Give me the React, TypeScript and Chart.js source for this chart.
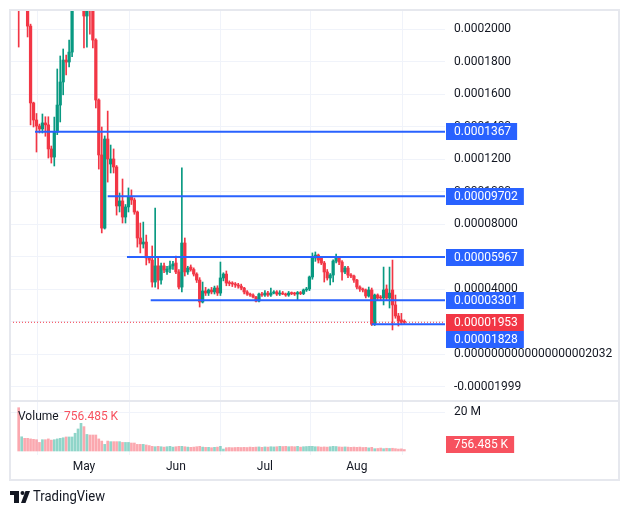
import React, { useEffect, useRef } from "react";
import { Chart, registerables } from "chart.js";

Chart.register(...registerables);

// Prices are in units of 0.00001; volumes in millions. One candle per day, index 0 = 9 Apr.
const opens = [22.6, 21.9, 22.8, 21.6, 20.18, 15.45, 14.4, 14.03, 13.85, 14.22, 14.1, 12.62, 12.12, 13.66, 15.32, 16.74, 18.09, 17.97, 18.58, 21.6, 22.8, 23.8, 24.2, 20.8, 21.4, 21.3, 19.32, 15.63, 12.25, 7.75, 13.23, 11.69, 12.0, 11.51, 9.11, 9.42, 8.43, 9.05, 9.66, 9.48, 8.74, 7.14, 6.77, 6.89, 5.91, 5.78, 4.43, 5.42, 4.55, 5.42, 5.05, 5.23, 5.42, 5.6, 5.05, 4.12, 6.83, 5.05, 5.35, 5.2, 4.92, 4.55, 3.2, 3.88, 3.75, 3.94, 3.82, 4.06, 3.75, 4.68, 4.92, 4.37, 4.34, 4.31, 4.25, 4.18, 4.06, 3.82, 3.69, 3.63, 3.51, 3.26, 3.69, 3.63, 3.75, 3.63, 3.75, 3.82, 3.69, 3.75, 3.69, 3.63, 3.75, 3.72, 3.69, 3.78, 3.72, 3.94, 4.0, 4.74, 5.91, 6.09, 5.91, 5.6, 5.05, 4.68, 4.86, 5.72, 5.91, 5.66, 5.05, 5.29, 4.86, 4.8, 4.55, 4.12, 4.0, 3.94, 3.57, 3.94, 1.828, 3.63, 3.5, 3.45, 4.0, 3.45, 3.94, 3.02, 2.34, 2.1, 2.0];
const highs = [23.2, 23.5, 23.0, 21.9, 20.3, 15.5, 14.8, 14.15, 14.77, 14.6, 14.6, 12.8, 14.58, 17.54, 18.34, 18.77, 18.4, 19.32, 22.0, 23.5, 24.5, 25.0, 24.6, 21.5, 21.8, 21.6, 19.4, 15.7, 13.97, 13.42, 14.95, 12.86, 12.62, 11.6, 9.91, 10.77, 9.2, 10.22, 10.1, 9.6, 8.8, 8.06, 8.12, 7.32, 6.0, 6.65, 8.98, 5.97, 5.6, 5.6, 5.4, 5.72, 5.7, 6.03, 5.2, 11.45, 7.14, 5.4, 5.48, 5.3, 5.0, 4.7, 4.43, 4.1, 4.0, 4.1, 4.18, 4.2, 5.66, 5.0, 5.11, 4.5, 4.45, 4.4, 4.35, 4.3, 4.1, 3.9, 3.75, 3.7, 3.55, 3.75, 3.8, 3.9, 3.85, 4.06, 3.9, 3.9, 3.9, 3.85, 3.75, 3.85, 3.82, 3.8, 3.85, 3.85, 4.0, 4.1, 4.8, 6.22, 6.28, 6.15, 6.0, 5.7, 5.2, 4.95, 5.8, 6.15, 6.0, 5.75, 5.4, 5.4, 4.95, 4.85, 4.6, 4.2, 4.06, 4.0, 4.12, 4.06, 3.69, 3.7, 3.6, 5.35, 4.25, 5.35, 5.78, 3.63, 2.5, 2.5, 2.1];
const lows = [18.89, 21.5, 21.3, 19.51, 14.1, 13.97, 12.43, 13.6, 13.6, 13.4, 12.06, 11.75, 11.57, 13.5, 14.28, 15.95, 17.17, 17.66, 18.3, 21.3, 22.0, 22.8, 18.83, 18.89, 19.69, 18.83, 15.14, 11.38, 7.45, 7.69, 10.58, 11.14, 11.14, 8.55, 8.74, 8.06, 8.06, 8.74, 9.2, 8.6, 6.58, 6.22, 6.52, 5.48, 5.6, 4.12, 4.12, 4.0, 4.3, 5.0, 4.9, 5.0, 5.2, 4.95, 4.0, 3.82, 4.8, 4.9, 5.1, 4.8, 4.4, 2.89, 3.14, 3.6, 3.6, 3.7, 3.69, 3.6, 3.6, 4.5, 4.2, 4.2, 4.15, 4.1, 4.05, 3.95, 3.7, 3.6, 3.55, 3.45, 3.2, 3.2, 3.55, 3.55, 3.55, 3.55, 3.7, 3.6, 3.6, 3.65, 3.55, 3.55, 3.65, 3.6, 3.32, 3.65, 3.65, 3.85, 3.9, 4.6, 5.7, 5.6, 5.5, 4.43, 4.55, 4.25, 4.43, 5.6, 5.5, 4.55, 4.95, 4.7, 4.7, 4.4, 4.0, 3.85, 3.82, 3.45, 3.5, 1.75, 1.75, 3.3, 3.3, 3.02, 3.3, 2.83, 1.48, 2.2, 1.72, 1.8, 1.85];
const closes = [21.9, 22.8, 21.6, 20.18, 15.45, 14.4, 14.03, 13.85, 14.22, 14.1, 12.62, 12.12, 13.66, 15.32, 16.74, 18.09, 17.97, 18.58, 21.6, 22.8, 23.8, 24.2, 20.8, 21.4, 21.3, 19.32, 15.63, 12.25, 7.75, 13.23, 12.0, 12.0, 11.51, 9.11, 9.42, 8.43, 9.05, 9.66, 9.48, 8.74, 7.14, 6.77, 6.89, 5.91, 5.78, 4.43, 5.42, 4.55, 5.42, 5.17, 5.23, 5.42, 5.54, 5.05, 4.12, 6.83, 5.05, 5.29, 5.2, 4.92, 4.55, 3.2, 3.88, 3.75, 3.94, 3.82, 4.06, 3.75, 4.68, 4.92, 4.37, 4.34, 4.31, 4.25, 4.18, 4.06, 3.82, 3.69, 3.63, 3.51, 3.26, 3.69, 3.63, 3.75, 3.63, 3.75, 3.82, 3.69, 3.75, 3.69, 3.63, 3.75, 3.72, 3.69, 3.78, 3.72, 3.94, 4.0, 4.74, 5.91, 6.09, 5.78, 5.6, 5.05, 4.68, 4.86, 5.72, 5.91, 5.66, 5.05, 5.29, 4.86, 4.8, 4.55, 4.12, 4.0, 3.94, 3.57, 3.94, 1.828, 3.63, 3.45, 3.45, 3.94, 3.45, 3.75, 3.02, 2.34, 2.03, 1.97, 1.953];
const volumes = [22.2, 7.3, 6.5, 6.5, 6.2, 6.0, 5.8, 4.4, 5.8, 5.8, 6.2, 5.6, 5.8, 6.2, 6.5, 6.8, 7.2, 7.2, 7.2, 9.1, 11.3, 14.2, 12.5, 8.5, 8.2, 8.2, 8.2, 6.2, 5.1, 3.4, 5.1, 4.8, 4.8, 4.8, 4.8, 4.4, 4.4, 4.4, 4.1, 4.1, 3.4, 3.4, 3.4, 3.1, 2.8, 2.4, 2.2, 2.4, 2.2, 2.0, 2.2, 2.4, 2.0, 2.2, 2.4, 2.4, 2.2, 2.0, 1.9, 2.0, 2.2, 2.4, 2.0, 1.9, 1.9, 1.7, 1.9, 2.0, 2.4, 1.0, 1.7, 1.8, 1.7, 1.8, 1.9, 1.8, 1.9, 1.8, 2.0, 1.9, 2.0, 2.1, 1.9, 2.1, 2.0, 2.2, 2.1, 2.2, 2.4, 2.3, 2.4, 2.2, 2.3, 2.2, 2.4, 2.0, 2.2, 2.3, 2.4, 2.4, 2.2, 2.2, 2.0, 2.1, 2.0, 2.2, 2.4, 2.3, 2.1, 2.0, 2.1, 2.0, 1.9, 2.0, 1.9, 2.0, 1.8, 1.9, 1.6, 1.9, 1.2, 1.3, 1.5, 1.2, 1.4, 1.3, 1.4, 1.2, 1.0, 1.1, 0.756485];

const monthTickIndex = [22, 53, 83, 114];
const monthLabels = ["May", "Jun", "Jul", "Aug"];

const priceTickValues = [-2, 0, 2, 4, 6, 8, 10, 12, 14, 16, 18, 20];
const priceTickLabels = ["-0.00001999", "0.0000000000000000002032", "0.00002000", "0.00004000", "0.00006000", "0.00008000", "0.0001000", "0.0001200", "0.0001400", "0.0001600", "0.0001800", "0.0002000"];

const levelValues = [13.67, 9.702, 5.967, 3.301, 1.828];
const levelStartIndex = [5.5, 30, 36.5, 44.5, 119];
const levelLabels = ["0.0001367", "0.00009702", "0.00005967", "0.00003301", "0.00001828"];

const lastPrice = 1.953;
const lastPriceLabel = "0.00001953";
const volumeTickValue = 20;
const volumeTickLabel = "20 M";
const lastVolumeLabel = "756.485 K";

const X_MIN = -2.93;
const X_MAX = 143.7;
const Y_MIN = -6.215;
const Y_MAX = 21.17;
const V_MIN = -2.05;
const V_MAX = 226.2;

const UP = "#089981";
const DOWN = "#F23645";
const VOL_UP = "rgba(34,171,148,0.5)";
const VOL_DOWN = "rgba(247,82,95,0.5)";
const BLUE = "#2962FF";
const TEXT = "#131722";
const FONT = "Roboto";

function drawLogo(ctx: CanvasRenderingContext2D) {
  ctx.save();
  ctx.fillStyle = TEXT;
  ctx.fillRect(10, 491, 9, 4);
  ctx.fillRect(14, 491, 5, 12);
  ctx.beginPath();
  ctx.arc(22.5, 493, 2, 0, Math.PI * 2);
  ctx.fill();
  ctx.beginPath();
  ctx.moveTo(21, 503);
  ctx.lineTo(25.5, 491);
  ctx.lineTo(30, 491);
  ctx.lineTo(25.5, 503);
  ctx.closePath();
  ctx.fill();
  ctx.font = `15px ${FONT}`;
  ctx.textBaseline = "middle";
  const w = ctx.measureText("TradingView").width;
  ctx.translate(33, 497.5);
  ctx.scale(72 / w, 1);
  ctx.fillText("TradingView", 0, 0);
  ctx.restore();
}

function drawBox(ctx: CanvasRenderingContext2D, text: string, yc: number, color: string) {
  ctx.font = `12px ${FONT}`;
  const w = ctx.measureText(text).width;
  ctx.fillStyle = color;
  ctx.fillRect(446, Math.round(yc - 8.5), w + 14, 17);
  ctx.fillStyle = "#ffffff";
  ctx.textBaseline = "middle";
  ctx.textAlign = "left";
  ctx.fillText(text, 454, Math.round(yc - 8.5) + 9);
}

const overlayPlugin = {
  id: "tvOverlay",
  beforeDatasetsDraw(chart: any) {
    const { ctx, chartArea } = chart;
    const yv = chart.scales.yv;
    const y = Math.round(yv.getPixelForValue(volumeTickValue)) + 0.5;
    ctx.save();
    ctx.strokeStyle = "#f0f3fa";
    ctx.lineWidth = 1;
    ctx.beginPath();
    ctx.moveTo(chartArea.left, y);
    ctx.lineTo(chartArea.right, y);
    ctx.stroke();
    ctx.restore();
  },
  afterDraw(chart: any) {
    const { ctx } = chart;
    const ys = chart.scales.y;
    const yv = chart.scales.yv;
    ctx.save();
    ctx.strokeStyle = "#e6e8ee";
    ctx.lineWidth = 2;
    ctx.strokeRect(10, 10, 609, 470);
    ctx.beginPath();
    ctx.moveTo(10, 401);
    ctx.lineTo(619, 401);
    ctx.stroke();

    const yLast = ys.getPixelForValue(lastPrice);
    levelValues.forEach((v, k) => {
      let y = ys.getPixelForValue(v);
      if (Math.abs(y - yLast) < 17) y = yLast + 17;
      drawBox(ctx, levelLabels[k], y, BLUE);
    });
    drawBox(ctx, lastPriceLabel, yLast, DOWN);

    ctx.font = `12px ${FONT}`;
    ctx.textBaseline = "middle";
    ctx.textAlign = "left";
    ctx.fillStyle = TEXT;
    ctx.fillText("Volume", 18, 417);
    ctx.fillStyle = "#F7525F";
    ctx.fillText(lastVolumeLabel, 64, 417);
    ctx.fillStyle = TEXT;
    ctx.fillText(volumeTickLabel, 454, Math.round(yv.getPixelForValue(volumeTickValue)));
    drawBox(ctx, lastVolumeLabel, 444, "#F7525F");

    drawLogo(ctx);
    ctx.restore();
  },
};

export default function App() {
  const canvasRef = useRef<HTMLCanvasElement | null>(null);

  useEffect(() => {
    const canvas = canvasRef.current;
    if (!canvas) return;
    const idx = opens.map((_, i) => i);
    const isUp = idx.map((i) => closes[i] >= opens[i]);

    const datasets: any[] = [];
    levelValues.forEach((v, k) => {
      datasets.push({
        type: "line",
        data: [
          { x: levelStartIndex[k], y: v },
          { x: X_MAX, y: v },
        ],
        borderColor: BLUE,
        borderWidth: 2,
        pointRadius: 0,
        yAxisID: "y",
        order: 0,
      });
    });
    datasets.push({
      type: "line",
      data: [
        { x: X_MIN, y: lastPrice },
        { x: X_MAX, y: lastPrice },
      ],
      borderColor: DOWN,
      borderWidth: 1,
      borderDash: [1, 2],
      pointRadius: 0,
      yAxisID: "y",
      order: 1,
    });
    datasets.push({
      type: "bar",
      data: idx.map((i) => ({ x: i, y: [opens[i], closes[i]] })),
      backgroundColor: idx.map((i) => (isUp[i] ? UP : DOWN)),
      barThickness: 2.6,
      minBarLength: 1,
      grouped: false,
      yAxisID: "y",
      order: 2,
    });
    datasets.push({
      type: "bar",
      data: idx.map((i) => ({ x: i, y: [lows[i], highs[i]] })),
      backgroundColor: idx.map((i) => (isUp[i] ? UP : DOWN)),
      barThickness: 1,
      grouped: false,
      yAxisID: "y",
      order: 3,
    });
    datasets.push({
      type: "bar",
      data: idx.map((i) => ({ x: i, y: [0, volumes[i]] })),
      backgroundColor: idx.map((i) => (isUp[i] ? VOL_UP : VOL_DOWN)),
      barThickness: 2,
      grouped: false,
      yAxisID: "yv",
      order: 4,
    });

    const chart = new Chart(canvas, {
      type: "bar",
      data: { datasets },
      options: {
        responsive: false,
        animation: false,
        devicePixelRatio: 1,
        events: [],
        layout: { padding: { left: 10, top: 10, right: 10, bottom: 35 } },
        plugins: { legend: { display: false }, tooltip: { enabled: false } },
        scales: {
          x: {
            type: "linear",
            min: X_MIN,
            max: X_MAX,
            offset: false,
            afterBuildTicks: (scale: any) => {
              scale.ticks = monthTickIndex.map((v) => ({ value: v }));
            },
            afterFit: (scale: any) => {
              scale.height = 25;
              scale.paddingLeft = 0;
              scale.paddingRight = 0;
            },
            ticks: {
              autoSkip: false,
              maxRotation: 0,
              padding: 5,
              color: TEXT,
              font: { family: FONT, size: 12 },
              callback: (_v: any, i: number) => monthLabels[i],
            },
            grid: { color: "#f0f3fa", drawTicks: false },
            border: { display: false },
          },
          y: {
            type: "linear",
            position: "right",
            min: Y_MIN,
            max: Y_MAX,
            afterBuildTicks: (scale: any) => {
              scale.ticks = priceTickValues.map((v) => ({ value: v }));
            },
            afterFit: (scale: any) => {
              scale.width = 175;
              scale.paddingTop = 0;
              scale.paddingBottom = 0;
            },
            ticks: {
              autoSkip: false,
              padding: 9,
              color: TEXT,
              font: { family: FONT, size: 12 },
              callback: (_v: any, i: number) => priceTickLabels[i],
            },
            grid: { color: "#f0f3fa", drawTicks: false },
            border: { display: false },
          },
          yv: {
            type: "linear",
            position: "right",
            display: false,
            min: V_MIN,
            max: V_MAX,
          },
        },
      } as any,
      plugins: [overlayPlugin],
    });
    return () => chart.destroy();
  }, []);

  return (
    <div style={{ position: "absolute", left: 0, top: 0, width: 630, height: 515, background: "#ffffff" }}>
      <canvas ref={canvasRef} width={630} height={515} style={{ display: "block" }} />
    </div>
  );
}
